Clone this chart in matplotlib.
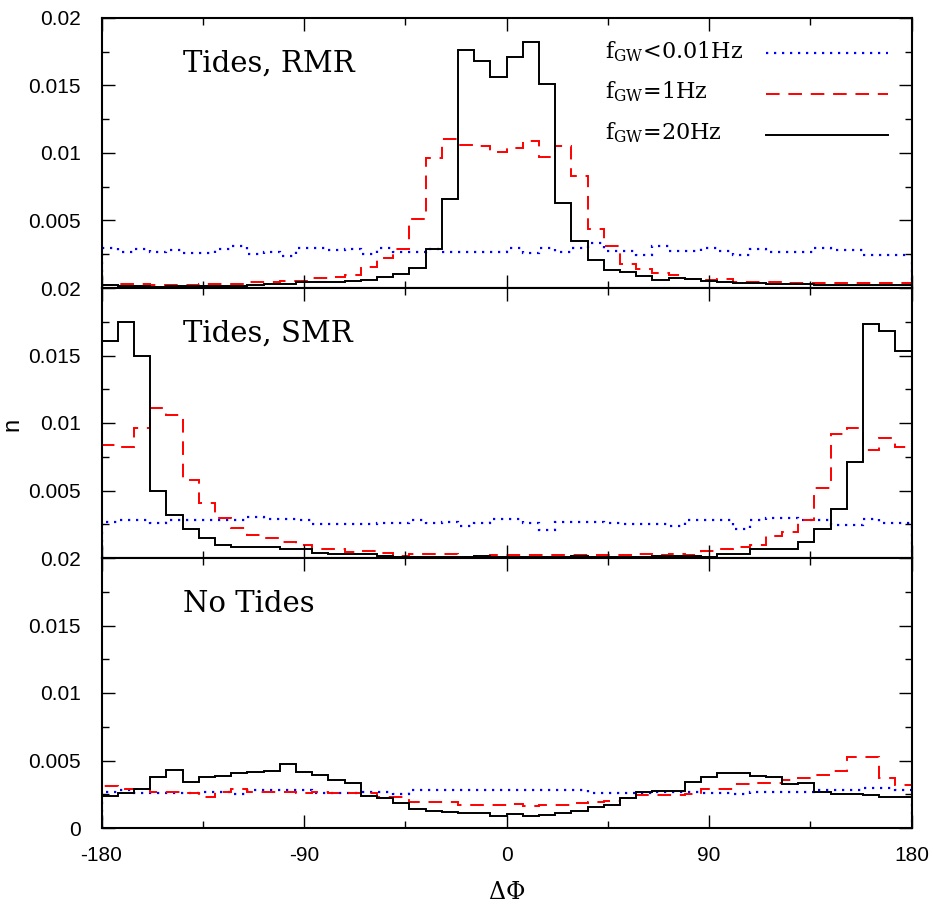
import numpy as np
import matplotlib
matplotlib.use('Agg')
import matplotlib.pyplot as plt
from matplotlib.lines import Line2D
from matplotlib.ticker import MultipleLocator, FixedLocator

# 50 bins of 7.2 deg from -180 to 180
edges = np.linspace(-180, 180, 51)

# Tides, RMR
rmr_low = [0.00295, 0.00263, 0.00288, 0.00268, 0.00283, 0.00256, 0.00256, 0.00288, 0.00308, 0.00251,
           0.0027, 0.00234, 0.00293, 0.00293, 0.00283, 0.00288, 0.0025, 0.0030, 0.00263, 0.00263,
           0.0029, 0.0027, 0.0027, 0.0027, 0.0027, 0.0030, 0.0026, 0.0030, 0.00268, 0.0030,
           0.00337, 0.00275, 0.00275, 0.00244, 0.00312, 0.00275, 0.00275, 0.0030, 0.00275, 0.00244,
           0.0029, 0.00263, 0.00263, 0.00263, 0.0030, 0.0028, 0.0028, 0.00246, 0.00246, 0.00246]
rmr_1hz = [0.00022, 0.0003, 0.0003, 0.00022, 0.00023, 0.00025, 0.0003, 0.0003, 0.00032, 0.00047,
           0.00047, 0.0005, 0.00052, 0.00074, 0.00083, 0.00098, 0.00155, 0.0022, 0.0029, 0.0051,
           0.0096, 0.0110, 0.0106, 0.0105, 0.0101, 0.0104, 0.0109, 0.0097, 0.0105, 0.0083,
           0.0044, 0.0031, 0.0018, 0.0014, 0.0011, 0.0010, 0.00066, 0.00062, 0.00066, 0.00047,
           0.00047, 0.00047, 0.00037, 0.00037, 0.00037, 0.00037, 0.00037, 0.00037, 0.00037, 0.00037]
rmr_20hz = [0.0002, 0.00015, 0.00015, 0.0001, 0.00012, 0.00015, 0.00018, 0.00018, 0.00015, 0.0002,
            0.0003, 0.0003, 0.00042, 0.00042, 0.00042, 0.00054, 0.00059, 0.00079, 0.00103, 0.00145,
            0.00288, 0.0066, 0.0176, 0.0168, 0.0156, 0.0171, 0.0182, 0.0151, 0.0063, 0.0035,
            0.0021, 0.00135, 0.00116, 0.00086, 0.00061, 0.00074, 0.00067, 0.00049, 0.00042, 0.00037,
            0.00037, 0.0003, 0.0003, 0.0003, 0.00022, 0.00022, 0.00022, 0.00022, 0.00022, 0.00022]

# Tides, SMR
smr_low = [0.0027, 0.00283, 0.00283, 0.00258, 0.00283, 0.00283, 0.00283, 0.00283, 0.00283, 0.00303,
           0.0029, 0.0029, 0.0028, 0.0025, 0.0025, 0.0025, 0.0025, 0.0026, 0.0026, 0.0028,
           0.0026, 0.0027, 0.0024, 0.0026, 0.0029, 0.0029, 0.0026, 0.0021, 0.0027, 0.0027,
           0.0027, 0.0026, 0.0025, 0.0025, 0.0025, 0.0024, 0.0028, 0.0028, 0.0028, 0.00216,
           0.0028, 0.0030, 0.0030, 0.0028, 0.0028, 0.00245, 0.00245, 0.0029, 0.0026, 0.0026]
smr_1hz = [0.0084, 0.0082, 0.0096, 0.0111, 0.0106, 0.0058, 0.0041, 0.0030, 0.0022, 0.0017,
           0.0015, 0.0012, 0.0010, 0.0007, 0.0007, 0.00047, 0.0005, 0.0004, 0.00015, 0.0003,
           0.0003, 0.0003, 0.0001, 0.00015, 0.0002, 0.0002, 0.0002, 0.0002, 0.00025, 0.0002,
           0.00025, 0.0002, 0.0002, 0.0003, 0.0002, 0.0003, 0.0002, 0.0005, 0.0007, 0.0008,
           0.0010, 0.0016, 0.0019, 0.0028, 0.0052, 0.0092, 0.0096, 0.0080, 0.0089, 0.0082]
smr_20hz = [0.0161, 0.0175, 0.0150, 0.0050, 0.0032, 0.00213, 0.00146, 0.00097, 0.00084, 0.0008,
            0.00084, 0.00064, 0.00064, 0.00035, 0.00027, 0.00027, 0.00027, 0.00017, 0.00005, 0.00005,
            0.00005, 0.00005, 0.00005, 0.00015, 0.00005, 0.00005, 0.00005, 0.00005, 0.00005, 0.00015,
            0.00005, 0.00005, 0.00005, 0.00005, 0.00015, 0.00015, 0.00017, 0.0001, 0.00027, 0.00027,
            0.00067, 0.00067, 0.00067, 0.00117, 0.00216, 0.00364, 0.00709, 0.0173, 0.0168, 0.0153]

# No Tides
nt_low = [0.0027, 0.0028, 0.00257, 0.00257, 0.00257, 0.00257, 0.0027, 0.0027, 0.0025, 0.0028,
          0.0028, 0.0028, 0.0028, 0.0026, 0.0026, 0.0026, 0.0027, 0.0027, 0.0025, 0.0028,
          0.0028, 0.0028, 0.0028, 0.0028, 0.0028, 0.0028, 0.0028, 0.0028, 0.0028, 0.0028,
          0.0026, 0.0026, 0.0026, 0.0026, 0.0027, 0.0027, 0.0027, 0.0026, 0.0026, 0.0025,
          0.0027, 0.0027, 0.0027, 0.0027, 0.0028, 0.0028, 0.0028, 0.0030, 0.0030, 0.0028]
nt_1hz = [0.00313, 0.00287, 0.00287, 0.00269, 0.00269, 0.00262, 0.00227, 0.0027, 0.00287, 0.0027,
          0.0027, 0.0027, 0.00256, 0.0027, 0.00262, 0.00262, 0.00262, 0.00227, 0.00227, 0.00195,
          0.00195, 0.00195, 0.0017, 0.0017, 0.0017, 0.00178, 0.00163, 0.0017, 0.0017, 0.00183,
          0.00195, 0.0020, 0.0022, 0.00244, 0.00244, 0.00244, 0.0025, 0.00287, 0.00287, 0.00326,
          0.0033, 0.00336, 0.00356, 0.00368, 0.00393, 0.00425, 0.00528, 0.00523, 0.00368, 0.00319]
nt_20hz = [0.00237, 0.00262, 0.00287, 0.0038, 0.0043, 0.00343, 0.0038, 0.00385, 0.00405, 0.00417,
           0.00425, 0.00471, 0.00417, 0.00393, 0.00356, 0.00336, 0.00237, 0.0022, 0.00183, 0.00141,
           0.00128, 0.00118, 0.00113, 0.00113, 0.00089, 0.00104, 0.00089, 0.00096, 0.00109, 0.00128,
           0.00153, 0.0017, 0.0022, 0.00269, 0.00274, 0.00274, 0.00343, 0.0038, 0.00405, 0.00405,
           0.00388, 0.00375, 0.00323, 0.0033, 0.00269, 0.00252, 0.00252, 0.00244, 0.00232, 0.00232]

panel_names = ['Tides, RMR', 'Tides, SMR', 'No Tides']
legend_labels = [r'f$_{\mathrm{GW}}$<0.01Hz', r'f$_{\mathrm{GW}}$=1Hz', r'f$_{\mathrm{GW}}$=20Hz']
ytick_vals = [0, 0.005, 0.01, 0.015, 0.02]
ytick_labels = ['0', '0.005', '0.01', '0.015', '0.02']
xtick_vals = [-180, -90, 0, 90, 180]

panels = [(rmr_low, rmr_1hz, rmr_20hz), (smr_low, smr_1hz, smr_20hz), (nt_low, nt_1hz, nt_20hz)]
colors = ['blue', 'red', 'black']
styles = [(0, (1, 2.6)), (0, (7, 4.5)), '-']
widths = [1.6, 1.4, 1.4]

plt.rcParams['font.family'] = ['Liberation Sans', 'DejaVu Sans']
plt.rcParams['mathtext.fontset'] = 'dejavuserif'

fig = plt.figure(figsize=(9.33, 9.07), dpi=100)
left, width = 101.5/933, 810/933
bot, top = (907-828)/907, (907-18)/907
h = (top-bot)/3

axes = []
for k in range(3):
    ax = fig.add_axes([left, top-(k+1)*h, width, h])
    for vals, c, ls, lw in zip(panels[k], colors, styles, widths):
        ax.stairs(vals, edges, color=c, lw=lw, linestyle=ls)
    ax.set_xlim(-180, 180)
    ax.set_ylim(0, 0.02)
    ax.xaxis.set_major_locator(FixedLocator(xtick_vals))
    ax.xaxis.set_minor_locator(MultipleLocator(45))
    ax.set_yticks(ytick_vals)
    if k < 2:
        ax.set_yticklabels([''] + ytick_labels[1:])
        ax.set_xticklabels([])
    else:
        ax.set_yticklabels(ytick_labels)
        ax.set_xticklabels([str(v) for v in xtick_vals])
    ax.yaxis.set_minor_locator(MultipleLocator(0.0025))
    ax.tick_params(which='both', direction='in', top=True, right=True, width=1.0, labelsize=15)
    ax.tick_params(which='major', length=9.5)
    ax.tick_params(which='minor', length=5)
    ax.tick_params(axis='y', pad=15)
    ax.tick_params(axis='x', pad=13)
    for s in ax.spines.values():
        s.set_linewidth(1.5)
    ax.text(0.1006, 0.8, panel_names[k], transform=ax.transAxes, fontsize=21,
            family='DejaVu Serif', va='baseline', ha='left')
    axes.append(ax)

# legend: labels left aligned, keys aligned on the right
ax = axes[0]
key_y = [0.870, 0.720, 0.568]
for i in range(3):
    ax.text(0.6216, key_y[i] - 0.019, legend_labels[i], transform=ax.transAxes,
            fontsize=16, family='DejaVu Serif', va='baseline', ha='left')
    ax.add_line(Line2D([0.8204, 0.9711], [key_y[i], key_y[i]], transform=ax.transAxes,
                       color=colors[i], lw=widths[i], linestyle=styles[i]))

axes[2].set_xlabel(r'$\Delta\Phi$', fontsize=17)
axes[2].xaxis.set_label_coords(0.5, -0.2)
fig.text(12/933, 1-424/907, 'n', fontsize=17, ha='center', va='center', rotation=90)

plt.savefig('out.png', dpi=100)
